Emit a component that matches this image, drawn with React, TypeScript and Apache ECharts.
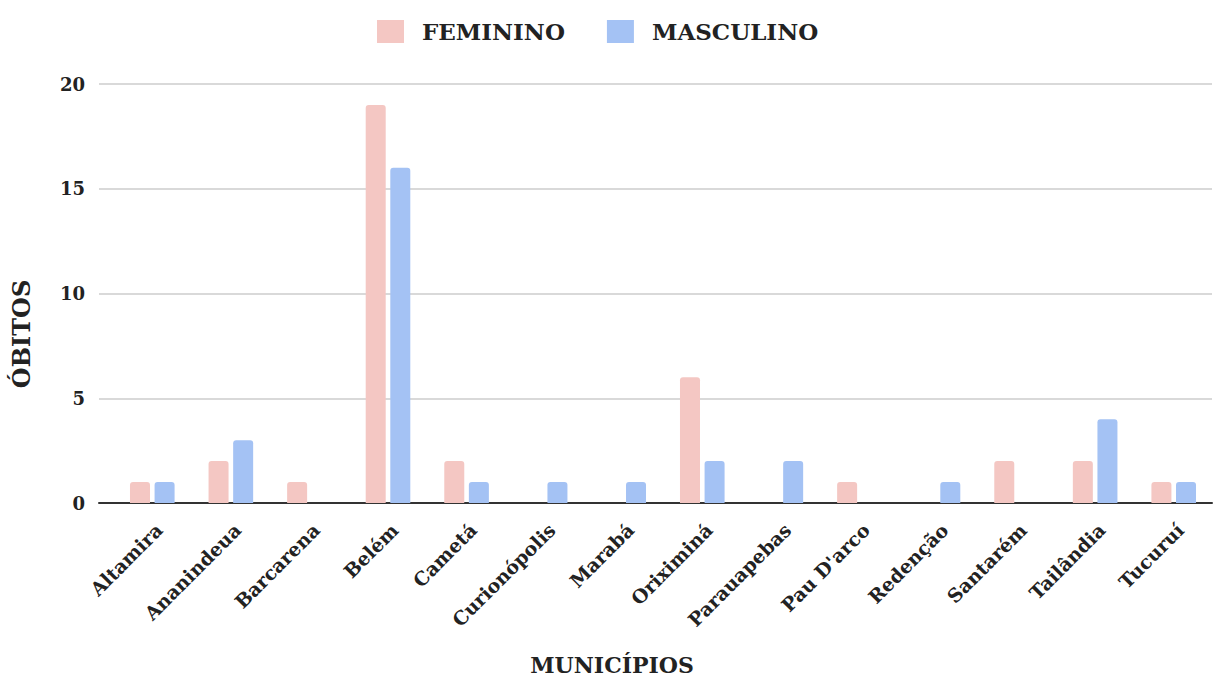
import React, { useEffect, useRef } from "react";
import * as echarts from "echarts";

const categories = [
  "Altamira", "Ananindeua", "Barcarena", "Belém", "Cametá", "Curionópolis", "Marabá",
  "Oriximiná", "Parauapebas", "Pau D'arco", "Redenção", "Santarém", "Tailândia", "Tucuruí",
];
const feminino = [1, 2, 1, 19, 2, 0, 0, 6, 0, 1, 0, 2, 2, 1];
const masculino = [1, 3, 0, 16, 1, 1, 1, 2, 2, 0, 1, 0, 4, 1];
const yTicks = { min: 0, max: 20, interval: 5 };

const FONT = "'DejaVu Serif', serif";

export default function App() {
  const ref = useRef<HTMLDivElement>(null);
  useEffect(() => {
    if (!ref.current) return;
    const chart = echarts.init(ref.current, undefined, { renderer: "svg" });
    const top = 84;
    const bottom = 677 - 503;
    chart.setOption({
      animation: false,
      backgroundColor: "#ffffff",
      legend: {
        top: 15,
        left: 372,
        itemWidth: 27,
        itemHeight: 23,
        itemGap: 42,
        icon: "rect",
        textStyle: {
          fontFamily: FONT,
          fontWeight: "bold",
          fontSize: 23,
          color: "#222",
          padding: [0, 0, 0, 13],
        },
        data: ["FEMININO", "MASCULINO"],
      },
      grid: [
        { left: 99, right: 1, top, bottom, containLabel: false },
        { left: 113, right: 0, top, bottom, containLabel: false },
      ],
      xAxis: [
        {
          type: "value",
          gridIndex: 0,
          min: 0,
          max: 1,
          axisLine: { show: true, onZero: false, lineStyle: { color: "#333", width: 2 } },
          axisTick: { show: false },
          axisLabel: { show: false },
          splitLine: { show: false },
        },
        {
          type: "category",
          gridIndex: 1,
          data: categories,
          axisLine: { show: false },
          axisTick: { show: false },
          axisLabel: {
            rotate: 45,
            interval: 0,
            margin: 17,
            verticalAlign: "top",
            fontFamily: FONT,
            fontWeight: "bold",
            fontSize: 19,
            color: "#222",
          },
        },
      ],
      yAxis: [
        {
          type: "value",
          gridIndex: 0,
          ...yTicks,
          axisLine: { show: false },
          axisTick: { show: false },
          axisLabel: { margin: 14, fontFamily: FONT, fontWeight: "bold", fontSize: 18, color: "#222" },
          splitLine: { show: true, lineStyle: { color: "#d9d9d9", width: 2 } },
        },
        {
          type: "value",
          gridIndex: 1,
          ...yTicks,
          show: false,
          splitLine: { show: false },
        },
      ],
      series: [
        {
          name: "FEMININO",
          type: "bar",
          xAxisIndex: 1,
          yAxisIndex: 1,
          data: feminino,
          barWidth: 20,
          barGap: "23%",
          itemStyle: { color: "#f4c7c3", borderRadius: [3, 3, 0, 0] },
        },
        {
          name: "MASCULINO",
          type: "bar",
          xAxisIndex: 1,
          yAxisIndex: 1,
          data: masculino,
          barWidth: 20,
          barGap: "23%",
          itemStyle: { color: "#a4c2f4", borderRadius: [3, 3, 0, 0] },
        },
      ],
      graphic: [
        {
          type: "text",
          x: 21,
          y: 334,
          rotation: Math.PI / 2,
          style: {
            text: "ÓBITOS",
            fontFamily: FONT,
            fontWeight: "bold",
            fontSize: 24,
            fill: "#222",
            align: "center",
            verticalAlign: "middle",
          },
        },
        {
          type: "text",
          x: 612,
          y: 665,
          style: {
            text: "MUNICÍPIOS",
            fontFamily: FONT,
            fontWeight: "bold",
            fontSize: 22,
            fill: "#222",
            align: "center",
            verticalAlign: "middle",
          },
        },
      ],
    });
    return () => chart.dispose();
  }, []);
  return <div ref={ref} style={{ width: 1213, height: 677, position: "absolute", left: 0, top: 0 }} />;
}
